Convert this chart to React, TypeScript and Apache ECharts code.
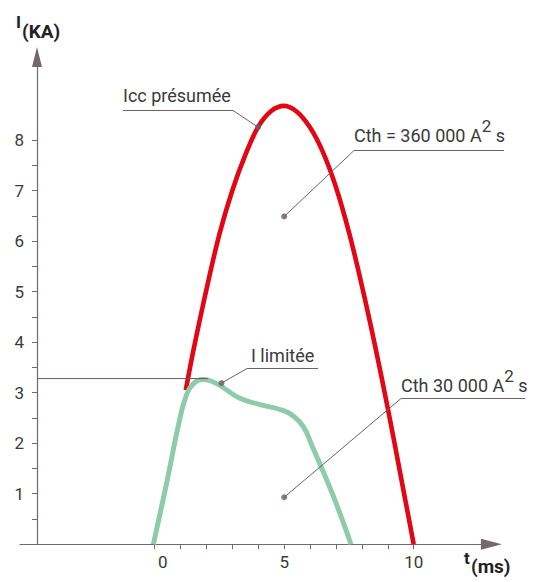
import React, { useEffect, useRef } from 'react';
import * as echarts from 'echarts';

// ---- Data ----
// Icc présumée (red curve): time in ms, current in kA
const redTime = [1.2, 1.5, 2.0, 2.5, 3.0, 3.5, 4.0, 4.5, 5.0, 5.5, 6.0, 6.5, 7.0, 7.5, 8.0, 8.5, 9.0, 9.5, 10];
const redCurrent = [3.05, 3.85, 5.05, 6.14, 7.01, 7.71, 8.27, 8.58, 8.68, 8.56, 8.25, 7.76, 7.07, 6.18, 5.12, 3.95, 2.69, 1.35, 0];

// I limitée (green curve)
const greenTime = [-0.05, 0.49, 0.88, 1.21, 1.54, 1.87, 2.46, 3.25, 4.03, 4.95, 5.35, 5.74, 6.05, 6.86, 7.58];
const greenCurrent = [0, 1.28, 2.27, 2.93, 3.2, 3.26, 3.16, 2.9, 2.77, 2.65, 2.54, 2.33, 1.98, 1.0, 0];

// Axis ticks / labels
const xTickValues = [0, 1, 2, 3, 4, 5, 6, 7, 8, 9, 10];
const xLabelValues = [0, 5, 10];
const yTickValues = [0.5, 1, 1.5, 2, 2.5, 3, 3.5, 4, 4.5, 5, 5.5, 6, 6.5, 7, 7.5, 8];
const yLabelValues = [1, 2, 3, 4, 5, 6, 7, 8];

// Peak level of the limited current (horizontal reference line)
const limitLevel = 3.28;
const limitLineEnd = 2.05;

// Annotation anchor points [t, I]
const iccPoint = [3.99, 8.26];
const limitPoint = [2.58, 3.19];
const cthBigPoint = [5, 6.49];
const cthSmallPoint = [5, 0.93];

// Texts
const yTitleMain = 'I';
const yTitleSub = '(KA)';
const xTitleMain = 't';
const xTitleSub = '(ms)';
const iccLabel = 'Icc présumée';
const limitLabel = 'I limitée';
const cthBigLabel = ['Cth = 360 000 A', '2', ' s'];
const cthSmallLabel = ['Cth 30 000 A', '2', ' s'];

// ---- Layout / style ----
const W = 534;
const H = 582;
const X_MIN = -5.2;
const X_MAX = 13;
const Y_MIN = 0;
const Y_MAX = 9.65;
const GRID = { left: 20, right: 42.6, top: 56.9, bottom: 37.8 };
const Y_AXIS_SHIFT = 17;
const Y_AXIS_T = X_MIN + (Y_AXIS_SHIFT * (X_MAX - X_MIN)) / (W - GRID.left - GRID.right);

const AXIS_COLOR = '#76676f';
const TEXT_COLOR = '#3a3a3a';
const LEADER_COLOR = '#6f5f67';
const RED = '#e30613';
const GREEN = '#8ecba9';
const FONT = 'Roboto, "Noto Sans", sans-serif';
const NOTE_SIZE = 18;
const TICK_SIZE = 17;

export default function App() {
  const ref = useRef<HTMLDivElement | null>(null);

  useEffect(() => {
    if (!ref.current) return;
    const chart = echarts.init(ref.current, undefined, { renderer: 'svg', width: W, height: H });

    const option: any = {
      animation: false,
      backgroundColor: '#ffffff',
      grid: {
        left: GRID.left,
        right: GRID.right,
        top: GRID.top,
        bottom: GRID.bottom,
        containLabel: false,
        outerBoundsMode: 'none',
      },
      xAxis: {
        type: 'value',
        min: X_MIN,
        max: X_MAX,
        axisLine: {
          show: true,
          onZero: false,
          symbol: ['none', 'triangle'],
          symbolSize: [11, 21],
          lineStyle: { color: AXIS_COLOR, width: 1.2 },
        },
        axisTick: {
          show: true,
          customValues: xTickValues,
          length: 5,
          lineStyle: { color: AXIS_COLOR, width: 1 },
        },
        axisLabel: {
          show: true,
          customValues: xLabelValues,
          margin: 9,
          color: TEXT_COLOR,
          fontSize: TICK_SIZE,
          fontFamily: FONT,
          formatter: (v: number) => (v === 0 ? '{z|0}' : String(v)),
          rich: {
            z: { padding: [0, 0, 0, 16], fontSize: TICK_SIZE, fontFamily: FONT, color: TEXT_COLOR },
          },
        },
        splitLine: { show: false },
      },
      yAxis: {
        type: 'value',
        min: Y_MIN,
        max: Y_MAX,
        position: 'left',
        offset: -Y_AXIS_SHIFT,
        axisLine: {
          show: true,
          onZero: false,
          symbol: ['none', 'triangle'],
          symbolSize: [10, 20],
          lineStyle: { color: AXIS_COLOR, width: 1.2 },
        },
        axisTick: {
          show: true,
          customValues: yTickValues,
          length: 5,
          lineStyle: { color: AXIS_COLOR, width: 1 },
        },
        axisLabel: {
          show: true,
          customValues: yLabelValues,
          margin: 13,
          color: TEXT_COLOR,
          fontSize: TICK_SIZE,
          fontFamily: FONT,
        },
        splitLine: { show: false },
      },
      series: [
        {
          name: 'Icc présumée',
          type: 'line',
          data: redTime.map((t, i) => [t, redCurrent[i]]),
          smooth: 0.35,
          symbol: 'none',
          showSymbol: false,
          lineStyle: { color: RED, width: 4.6, cap: 'butt' },
          z: 2,
          silent: true,
        },
        {
          name: 'I limitée',
          type: 'line',
          data: greenTime.map((t, i) => [t, greenCurrent[i]]),
          smooth: 0.45,
          symbol: 'none',
          showSymbol: false,
          lineStyle: { color: GREEN, width: 5, cap: 'butt' },
          z: 3,
          silent: true,
        },
        {
          name: 'limit',
          type: 'line',
          data: [
            [Y_AXIS_T, limitLevel],
            [limitLineEnd, limitLevel],
          ],
          symbol: 'none',
          showSymbol: false,
          lineStyle: { color: '#6b5560', width: 1 },
          z: 4,
          silent: true,
        },
        {
          name: 'points',
          type: 'scatter',
          data: [iccPoint, limitPoint, cthBigPoint, cthSmallPoint],
          symbol: 'circle',
          symbolSize: 6,
          itemStyle: { color: '#6b5a63' },
          z: 6,
          silent: true,
        },
      ],
    };

    chart.setOption(option);

    const px = (p: number[]) => chart.convertToPixel({ gridIndex: 0 }, p) as number[];

    const notes = [
      { point: iccPoint, textX: 123, textY: 95, lineY: 110.5, x1: 123, x2: 233, from: 'end', text: iccLabel },
      { point: cthBigPoint, textX: 354, textY: 135, lineY: 150.5, x1: 354, x2: 504, from: 'start', rich: cthBigLabel },
      { point: limitPoint, textX: 251, textY: 355, lineY: 368.5, x1: 247, x2: 318, from: 'start', text: limitLabel },
      { point: cthSmallPoint, textX: 401, textY: 385, lineY: 398.5, x1: 401, x2: 525, from: 'start', rich: cthSmallLabel },
    ];

    const graphics: any[] = [];
    notes.forEach((n: any) => {
      const p = px(n.point);
      const sx = n.from === 'end' ? n.x2 : n.x1;
      graphics.push({
        type: 'polyline',
        z: 5,
        silent: true,
        shape: { points: [[n.x1, n.lineY], [n.x2, n.lineY]] },
        style: { stroke: LEADER_COLOR, lineWidth: 1, fill: null },
      });
      graphics.push({
        type: 'line',
        z: 5,
        silent: true,
        shape: { x1: sx, y1: n.lineY, x2: p[0], y2: p[1] },
        style: { stroke: LEADER_COLOR, lineWidth: 1 },
      });
      if (n.rich) {
        graphics.push({
          type: 'text',
          z: 5,
          silent: true,
          x: n.textX,
          y: n.textY,
          style: {
            text: `{n|${n.rich[0]}}{s|${n.rich[1]}}{n|${n.rich[2]}}`,
            verticalAlign: 'middle',
            align: 'left',
            rich: {
              n: { fontSize: NOTE_SIZE, fontFamily: FONT, fill: TEXT_COLOR },
              s: { fontSize: NOTE_SIZE - 1, fontFamily: FONT, fill: TEXT_COLOR, padding: [0, 0, 18, 0] },
            },
          },
        });
      } else {
        graphics.push({
          type: 'text',
          z: 5,
          silent: true,
          x: n.textX,
          y: n.textY,
          style: {
            text: n.text,
            fontSize: NOTE_SIZE,
            fontFamily: FONT,
            fill: TEXT_COLOR,
            verticalAlign: 'middle',
            align: 'left',
          },
        });
      }
    });

    // Axis titles with subscripts
    graphics.push(
      {
        type: 'text', z: 5, silent: true, x: 16, y: 13,
        style: { text: yTitleMain, fontSize: 17, fontWeight: 'bold', fontFamily: FONT, fill: '#222', verticalAlign: 'top' },
      },
      {
        type: 'text', z: 5, silent: true, x: 22, y: 22,
        style: { text: yTitleSub, fontSize: 19, fontWeight: 'bold', fontFamily: FONT, fill: '#222', verticalAlign: 'top' },
      },
      {
        type: 'text', z: 5, silent: true, x: 464, y: 549,
        style: { text: xTitleMain, fontSize: 17, fontWeight: 'bold', fontFamily: FONT, fill: '#222', verticalAlign: 'top' },
      },
      {
        type: 'text', z: 5, silent: true, x: 471, y: 557,
        style: { text: xTitleSub, fontSize: 19, fontWeight: 'bold', fontFamily: FONT, fill: '#222', verticalAlign: 'top' },
      }
    );

    chart.setOption({ graphic: graphics });

    return () => {
      chart.dispose();
    };
  }, []);

  return (
    <div
      ref={ref}
      style={{ position: 'absolute', left: 0, top: 0, width: W, height: H, background: '#fff' }}
    />
  );
}
